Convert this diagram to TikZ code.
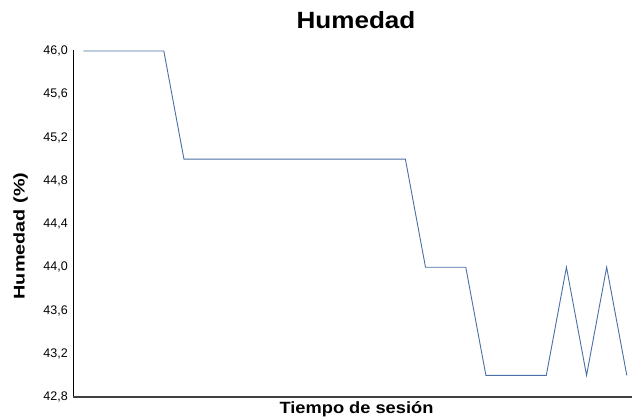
\documentclass[tikz,border=0pt]{standalone}
\usepackage{fontspec}
\setmainfont{Liberation Sans}
\tikzset{
  ticklbl/.style={anchor=east, inner sep=0pt, font=\fontsize{12.5}{14}\selectfont},
  datalne/.style={draw={rgb,255:red,74;green,111;blue,165}, line width=0.9pt, line join=miter},
  yaxis/.style={draw=black, line width=1.1pt},
  xaxis/.style={draw={rgb,255:red,64;green,64;blue,64}, line width=1.4pt},
}
\begin{document}
\begin{tikzpicture}[x=1pt,y=-1pt]
\useasboundingbox (0,0) rectangle (632,420);
% title
\node[anchor=base, inner sep=0pt] (title) at (356,28.3) {\fontsize{23.5}{26}\selectfont\bfseries\scalebox{1.11}[1]{Humedad}};
% axes
\coordinate (o) at (73.3,396.8);
\coordinate (ytop) at (73.3,50.5);
\coordinate (xend) at (632,396.8);
\draw[yaxis] (ytop) -- (73.3,396.8);
\draw[xaxis] (o) -- (xend);
% tick labels
\foreach \lbl [count=\k from 0] in {{46,0},{45,6},{45,2},{44,8},{44,4},{44,0},{43,6},{43,2},{42,8}}{
  \node[ticklbl] (t\k) at (68,51+43.25*\k) {\lbl};
}
% axis titles
\node[anchor=base, inner sep=0pt] (xlbl) at (356.5,413) {\fontsize{16.3}{18}\selectfont\bfseries\scalebox{1.12}[1]{Tiempo de sesión}};
\node[anchor=base, rotate=90, inner sep=0pt] (ylbl) at (24.5,236) {\fontsize{15.5}{18}\selectfont\bfseries\scalebox{1.28}[1]{Humedad (\%)}};
% data
\def\px#1{83.3+20.13*#1}
\def\py#1{51+(46-#1)*108.125}
\draw[datalne] ({\px{0}},{\py{46}}) -- ({\px{4}},{\py{46}}) -- ({\px{5}},{\py{45}})
  -- ({\px{16}},{\py{45}}) -- ({\px{17}},{\py{44}}) -- ({\px{19}},{\py{44}})
  -- ({\px{20}},{\py{43}}) -- ({\px{23}},{\py{43}}) -- ({\px{24}},{\py{44}})
  -- ({\px{25}},{\py{43}}) -- ({\px{26}},{\py{44}}) -- ({\px{27}},{\py{43}});
\end{tikzpicture}
\end{document}
